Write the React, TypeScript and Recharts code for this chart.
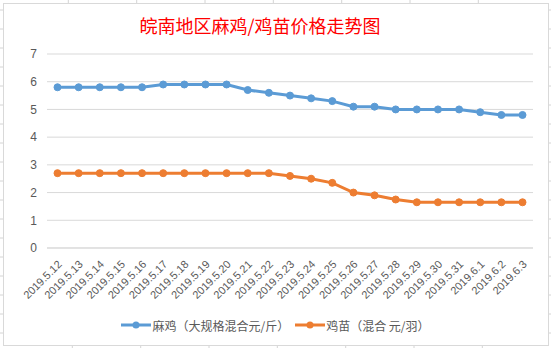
import React from "react";
import { LineChart, Line, XAxis, YAxis, CartesianGrid, Legend } from "recharts";

const dates = [
  "2019.5.12", "2019.5.13", "2019.5.14", "2019.5.15", "2019.5.16", "2019.5.17",
  "2019.5.18", "2019.5.19", "2019.5.20", "2019.5.21", "2019.5.22", "2019.5.23",
  "2019.5.24", "2019.5.25", "2019.5.26", "2019.5.27", "2019.5.28", "2019.5.29",
  "2019.5.30", "2019.5.31", "2019.6.1", "2019.6.2", "2019.6.3",
];
const majiPrices = [
  5.8, 5.8, 5.8, 5.8, 5.8, 5.9, 5.9, 5.9, 5.9, 5.7, 5.6, 5.5,
  5.4, 5.3, 5.1, 5.1, 5.0, 5.0, 5.0, 5.0, 4.9, 4.8, 4.8,
];
const jimiaoPrices = [
  2.7, 2.7, 2.7, 2.7, 2.7, 2.7, 2.7, 2.7, 2.7, 2.7, 2.7, 2.6,
  2.5, 2.35, 2.0, 1.9, 1.75, 1.65, 1.65, 1.65, 1.65, 1.65, 1.65,
];
const yTicks = [0, 1, 2, 3, 4, 5, 6, 7];
const title = "皖南地区麻鸡/鸡苗价格走势图";
const seriesNames = ["麻鸡（大规格混合元/斤）", "鸡苗（混合 元/羽）"];
const seriesColors = ["#5b9bd5", "#ed7d31"];

const data = dates.map((d, i) => ({
  date: d,
  maji: majiPrices[i],
  jimiao: jimiaoPrices[i],
}));

const XTick = (props: any) => {
  const { x, y, payload } = props;
  const tx = x + 5;
  const ty = y + 9;
  return (
    <text
      x={tx}
      y={ty}
      transform={`rotate(-45, ${tx}, ${ty})`}
      textAnchor="end"
      fill="#595959"
      fontSize={11}
      fontFamily="'Liberation Sans', Arial, sans-serif"
    >
      {payload.value}
    </text>
  );
};

const LegendContent = () => (
  <div
    style={{
      display: "flex",
      justifyContent: "center",
      alignItems: "center",
      fontFamily: "'Noto Sans CJK SC', sans-serif",
      fontSize: 12,
      color: "#595959",
      height: 20,
    }}
  >
    {seriesNames.map((n, i) => (
      <div key={n} style={{ display: "flex", alignItems: "center", marginRight: i === 0 ? 6 : 0 }}>
        <svg width={30} height={10} style={{ marginRight: 1 }}>
          <line x1={0} y1={5} x2={30} y2={5} stroke={seriesColors[i]} strokeWidth={3} />
          <circle cx={15} cy={5} r={3.5} fill={seriesColors[i]} />
        </svg>
        <span style={{ whiteSpace: "pre" }}>{n}</span>
      </div>
    ))}
  </div>
);

const Background = () => {
  const cols = [68.3, 136.7, 205, 273.3, 341.7, 410, 478.3];
  const rows: number[] = [];
  for (let y = 10; y < 348; y += 19) rows.push(y);
  return (
    <svg width={551} height={348} style={{ position: "absolute", left: 0, top: 0 }}>
      {cols.map((c) => (
        <g key={c}>
          <line x1={c} y1={0} x2={c} y2={3} stroke="#d4d4d4" />
          <line x1={c + 4} y1={345} x2={c + 4} y2={348} stroke="#d4d4d4" />
        </g>
      ))}
      {rows.map((r) => (
        <g key={r}>
          <line x1={0} y1={r} x2={3} y2={r} stroke="#d4d4d4" />
          <line x1={548} y1={r} x2={551} y2={r} stroke="#d4d4d4" />
        </g>
      ))}
    </svg>
  );
};

export default function App() {
  return (
    <div style={{ position: "absolute", left: 0, top: 0, width: 551, height: 348, background: "#fff" }}>
      <Background />
      <div
        style={{
          position: "absolute",
          left: 2.5,
          top: 2.5,
          width: 546,
          height: 343,
          boxSizing: "border-box",
          border: "1px solid #d9d9d9",
          background: "#fff",
        }}
      />
      <div
        style={{
          position: "absolute",
          left: 0,
          top: 13,
          width: 520,
          textAlign: "center",
          color: "#ff0000",
          fontSize: 18,
          fontFamily: "'Noto Sans CJK SC', sans-serif",
          lineHeight: "24px",
        }}
      >
        {title}
      </div>
      <div style={{ position: "absolute", left: 0, top: 0 }}>
        <LineChart width={551} height={348} data={data} margin={{ top: 54, right: 18, bottom: 0, left: 7 }}>
          <CartesianGrid vertical={false} stroke="#d9d9d9" />
          <XAxis
            dataKey="date"
            interval={0}
            tickLine={false}
            axisLine={{ stroke: "#d9d9d9" }}
            height={100}
            padding={{ left: 10.5, right: 10.5 }}
            tick={<XTick />}
          />
          <YAxis
            domain={[0, 7]}
            ticks={yTicks}
            width={40}
            tickLine={false}
            axisLine={false}
            tickSize={0}
            tickMargin={10}
            tick={{ fill: "#595959", fontSize: 12, fontFamily: "'Liberation Sans', Arial, sans-serif" }}
          />
          <Legend
            verticalAlign="middle"
            align="center"
            content={<LegendContent />}
            wrapperStyle={{ top: 315, left: 0, width: 551 }}
          />
          <Line
            type="linear"
            dataKey="maji"
            name={seriesNames[0]}
            stroke={seriesColors[0]}
            strokeWidth={3}
            dot={{ r: 3.5, fill: seriesColors[0], stroke: seriesColors[0], strokeWidth: 1 }}
            activeDot={false}
            isAnimationActive={false}
          />
          <Line
            type="linear"
            dataKey="jimiao"
            name={seriesNames[1]}
            stroke={seriesColors[1]}
            strokeWidth={3}
            dot={{ r: 3.5, fill: seriesColors[1], stroke: seriesColors[1], strokeWidth: 1 }}
            activeDot={false}
            isAnimationActive={false}
          />
        </LineChart>
      </div>
    </div>
  );
}
